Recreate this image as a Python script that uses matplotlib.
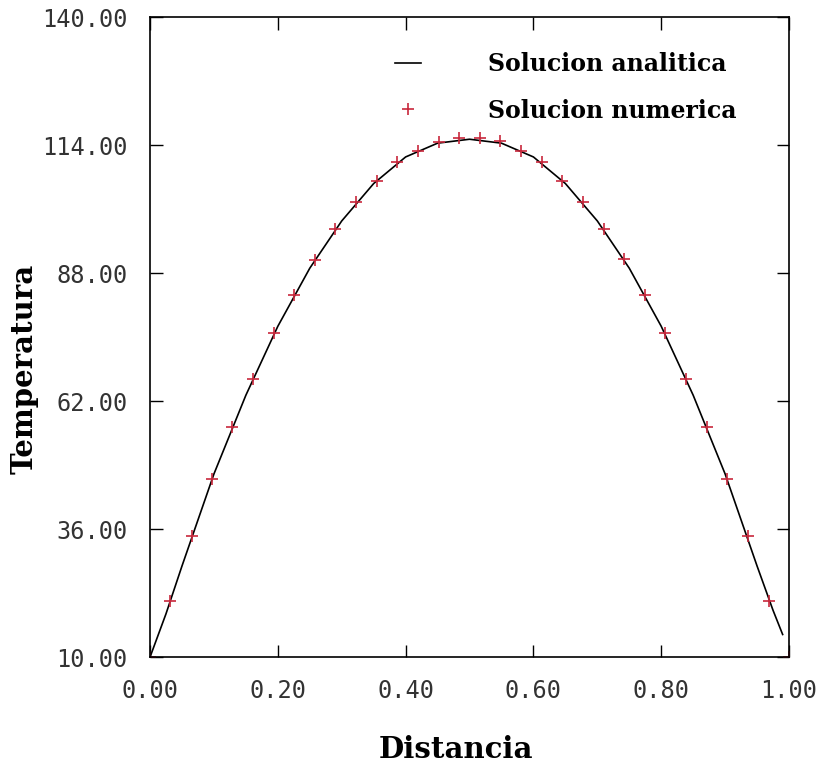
import numpy as np
import matplotlib
matplotlib.use("Agg")
import matplotlib.pyplot as plt

########### Values

# numerical solution (red crosses)
x_num = [0.0, 0.032, 0.065, 0.097, 0.129, 0.161, 0.194, 0.226, 0.258, 0.290,
         0.323, 0.355, 0.387, 0.419, 0.452, 0.484, 0.516, 0.548, 0.581, 0.613,
         0.645, 0.677, 0.710, 0.742, 0.774, 0.806, 0.839, 0.871, 0.903, 0.935,
         0.968, 1.0]
t_num = [10.0, 21.4, 34.6, 46.1, 56.7, 66.4, 75.8, 83.5, 90.6, 96.9,
         102.4, 106.7, 110.5, 112.8, 114.7, 115.5, 115.5, 114.8, 112.8, 110.6,
         106.7, 102.4, 96.9, 90.8, 83.5, 75.8, 66.5, 56.7, 46.1, 34.6,
         21.4, 10.0]

# analytical solution (black line)
x_an = [0.0, 0.025, 0.05, 0.1, 0.15, 0.2, 0.25, 0.3, 0.35, 0.4, 0.45, 0.5,
        0.55, 0.6, 0.65, 0.7, 0.75, 0.8, 0.85, 0.9, 0.95, 0.975, 0.99]
t_an = [10.0, 18.8, 28.5, 47.2, 63.2, 77.2, 89.0, 98.6, 106.2, 111.6, 114.4, 115.2,
        114.4, 111.6, 106.2, 98.6, 89.0, 77.2, 63.2, 47.2, 28.5, 19.5, 14.6]

xticks = [0.0, 0.2, 0.4, 0.6, 0.8, 1.0]
yticks = [10, 36, 62, 88, 114, 140]

########### Plot

fig = plt.figure(figsize=(8.22, 7.65), dpi=100)
ax = fig.add_axes([0.1825, 0.141, 0.7774, 0.8366])

ax.plot(x_an, t_an, color='black', lw=1.2, label='Solucion analitica')
ax.plot(x_num, t_num, ls='none', marker='+', ms=9, mew=1.2, color='#c8283c',
        label='Solucion numerica')

ax.set_xlim(0, 1)
ax.set_ylim(10, 140)
ax.set_xticks(xticks)
ax.set_yticks(yticks)
ax.set_xticklabels(['%.2f' % v for v in xticks])
ax.set_yticklabels(['%.2f' % v for v in yticks])
for lab in ax.get_xticklabels() + ax.get_yticklabels():
    lab.set_family('DejaVu Sans Mono')
    lab.set_fontsize(17)
    lab.set_color('#333333')

ax.tick_params(direction='in', length=9, width=1.0, top=True, right=True)
ax.tick_params(axis='x', pad=16)
ax.tick_params(axis='y', pad=16)
for s in ax.spines.values():
    s.set_linewidth(1.2)

ax.set_xlabel('Distancia', family='DejaVu Serif', weight='bold', fontsize=21)
ax.set_ylabel('Temperatura', family='DejaVu Serif', weight='bold', fontsize=21)
ax.xaxis.set_label_coords(0.479, -0.122)
ax.yaxis.set_label_coords(-0.175, 0.45)

ax.legend(loc='upper left', bbox_to_anchor=(0.383, 0.945), frameon=False,
          prop={'family': 'DejaVu Serif', 'weight': 'bold', 'size': 17},
          handlelength=1.1, handletextpad=2.84, labelspacing=0.94,
          borderpad=0, borderaxespad=0)

fig.savefig('out.png', dpi=100)
